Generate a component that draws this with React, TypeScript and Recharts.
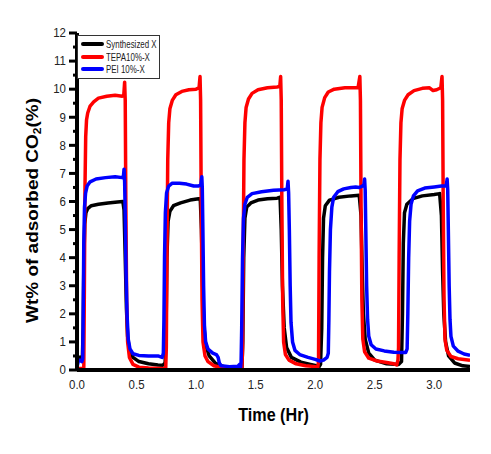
import React from "react";
import { LineChart, Line, XAxis, YAxis, Legend } from "recharts";

const FONT = '"Liberation Sans", Arial, sans-serif';

const seriesNames = ["Synthesized X", "TEPA10%-X", "PEI 10%-X"];
const seriesColors = ["#000000", "#ff0000", "#0000ff"];

const xTicks = [0, 0.5, 1, 1.5, 2, 2.5, 3];
const yTicks = [0, 0.5, 1, 1.5, 2, 2.5, 3, 3.5, 4, 4.5, 5, 5.5, 6, 6.5, 7, 7.5, 8, 8.5, 9, 9.5, 10, 10.5, 11, 11.5, 12];

// Synthesized X
const synthTime = [
  0, 0.03, 0.045, 0.052, 0.058, 0.065, 0.075, 0.09, 0.12, 0.18, 0.26, 0.34, 0.385, 0.395, 0.405, 0.415, 0.425, 0.44,
  0.47, 0.52, 0.6, 0.68, 0.72, 0.74, 0.748, 0.755, 0.765, 0.78, 0.81, 0.87, 0.95, 1.02, 1.035, 1.045, 1.055, 1.065,
  1.08, 1.11, 1.16, 1.24, 1.32, 1.385, 1.392, 1.4, 1.41, 1.425, 1.46, 1.52, 1.6, 1.68, 1.705, 1.715, 1.725, 1.74,
  1.76, 1.8, 1.88, 1.96, 2.01, 2.03, 2.045, 2.055, 2.062, 2.07, 2.085, 2.12, 2.2, 2.3, 2.37, 2.385, 2.395, 2.405,
  2.42, 2.45, 2.5, 2.6, 2.7, 2.725, 2.733, 2.74, 2.75, 2.77, 2.82, 2.9, 3.0, 3.045, 3.06, 3.07, 3.08, 3.095, 3.12,
  3.17, 3.24, 3.3,
];
const synthWt = [
  0.45, 0.45, 0.4, 1.5, 4.0, 5.2, 5.6, 5.75, 5.85, 5.9, 5.95, 5.98, 6.0, 5.7, 4.0, 2.2, 1.2, 0.7,
  0.45, 0.3, 0.22, 0.18, 0.17, 0.25, 1.5, 4.0, 5.3, 5.65, 5.85, 5.95, 6.05, 6.1, 6.1, 5.0, 3.0, 1.6,
  0.9, 0.5, 0.25, 0.1, 0.05, 0.05, 1.0, 4.0, 5.4, 5.8, 5.95, 6.05, 6.1, 6.12, 6.15, 5.0, 3.0, 1.5,
  0.8, 0.45, 0.28, 0.2, 0.15, 0.1, 0.2, 1.5, 4.0, 5.4, 5.85, 6.05, 6.15, 6.2, 6.22, 5.5, 3.5, 2.0,
  1.1, 0.6, 0.35, 0.22, 0.2, 0.3, 2.0, 4.5, 5.6, 5.9, 6.1, 6.2, 6.25, 6.28, 5.5, 3.5, 2.0, 1.0, 0.5,
  0.25, 0.15, 0.12,
];

// TEPA10%-X
const tepaTime = [
  0, 0.05, 0.057, 0.062, 0.067, 0.073, 0.08, 0.09, 0.11, 0.14, 0.18, 0.25, 0.32, 0.38, 0.393, 0.4, 0.405, 0.41,
  0.417, 0.425, 0.44, 0.47, 0.52, 0.6, 0.7, 0.745, 0.75, 0.755, 0.762, 0.77, 0.78, 0.8, 0.83, 0.88, 0.94, 1.0,
  1.025, 1.033, 1.038, 1.043, 1.05, 1.058, 1.075, 1.1, 1.15, 1.22, 1.3, 1.385, 1.39, 1.395, 1.402, 1.41, 1.42,
  1.44, 1.47, 1.52, 1.6, 1.68, 1.703, 1.71, 1.715, 1.72, 1.727, 1.735, 1.75, 1.78, 1.84, 1.92, 2.0, 2.02, 2.028,
  2.033, 2.04, 2.048, 2.058, 2.08, 2.11, 2.16, 2.25, 2.36, 2.375, 2.38, 2.385, 2.392, 2.4, 2.415, 2.45, 2.52, 2.6,
  2.66, 2.685, 2.695, 2.7, 2.705, 2.712, 2.72, 2.73, 2.75, 2.78, 2.83, 2.9, 2.96, 2.99, 3.02, 3.055, 3.065, 3.07,
  3.075, 3.082, 3.09, 3.105, 3.14, 3.2, 3.3,
];
const tepaWt = [
  0.05, 0.05, 0.0, 3.0, 6.5, 8.3, 8.9, 9.15, 9.4, 9.55, 9.68, 9.75, 9.78, 9.75, 9.8, 10.25, 9.6, 6.0,
  2.5, 1.0, 0.45, 0.2, 0.1, 0.07, 0.05, 0.05, 0.8, 4.0, 7.5, 8.8, 9.3, 9.6, 9.8, 9.92, 9.98, 10.0,
  10.05, 10.45, 9.6, 6.0, 2.5, 1.0, 0.5, 0.3, 0.15, 0.08, 0.05, 0.05, 0.8, 4.0, 7.5, 8.8, 9.35,
  9.65, 9.85, 9.98, 10.05, 10.08, 10.1, 10.45, 9.6, 6.0, 2.5, 1.0, 0.55, 0.35, 0.22, 0.15, 0.12, 0.05, 0.3,
  4.0, 7.5, 8.8, 9.35, 9.7, 9.9, 10.0, 10.05, 10.05, 10.45, 9.6, 6.0, 2.5, 1.1, 0.65, 0.42, 0.32, 0.27,
  0.22, 0.18, 0.35, 0.8, 4.0, 7.5, 8.8, 9.3, 9.6, 9.8, 9.95, 10.03, 10.05, 9.95, 9.98, 10.05, 10.45, 9.6,
  6.0, 2.5, 1.1, 0.7, 0.48, 0.4, 0.35,
];

// PEI 10%-X
const peiTime = [
  0, 0.01, 0.025, 0.04, 0.048, 0.052, 0.057, 0.063, 0.072, 0.085, 0.11, 0.16, 0.24, 0.32, 0.38, 0.39, 0.395, 0.4,
  0.405, 0.412, 0.42, 0.43, 0.445, 0.47, 0.52, 0.6, 0.68, 0.715, 0.725, 0.73, 0.735, 0.742, 0.752, 0.77, 0.8, 0.86,
  0.92, 0.98, 1.02, 1.04, 1.048, 1.052, 1.057, 1.063, 1.07, 1.08, 1.1, 1.14, 1.17, 1.185, 1.195, 1.21, 1.28, 1.35,
  1.365, 1.372, 1.378, 1.383, 1.39, 1.398, 1.41, 1.43, 1.47, 1.55, 1.65, 1.74, 1.765, 1.772, 1.777, 1.783, 1.79,
  1.797, 1.81, 1.83, 1.87, 1.94, 2.0, 2.04, 2.07, 2.1, 2.11, 2.115, 2.12, 2.128, 2.14, 2.155, 2.19, 2.24, 2.3, 2.34,
  2.37, 2.395, 2.41, 2.415, 2.42, 2.425, 2.432, 2.44, 2.45, 2.47, 2.51, 2.58, 2.66, 2.73, 2.76, 2.772, 2.778, 2.785,
  2.793, 2.805, 2.825, 2.86, 2.92, 3.0, 3.06, 3.1, 3.108, 3.113, 3.118, 3.125, 3.132, 3.14, 3.16, 3.2, 3.25, 3.3,
];
const peiWt = [
  0.1, 0.3, 0.35, 0.3, 0.4, 2.0, 4.5, 5.8, 6.3, 6.55, 6.7, 6.8, 6.85, 6.88, 6.85, 6.9, 7.15, 6.7,
  5.5, 3.5, 2.0, 1.1, 0.75, 0.58, 0.52, 0.5, 0.5, 0.45, 0.6, 1.8, 4.0, 5.6, 6.3, 6.55, 6.65, 6.65,
  6.62, 6.55, 6.55, 6.6, 6.88, 6.5, 5.0, 3.0, 1.6, 1.0, 0.75, 0.6, 0.55, 0.45, 0.25, 0.15, 0.12, 0.13,
  0.2, 0.0, 0.3, 1.5, 4.0, 5.4, 5.9, 6.15, 6.28, 6.35, 6.4, 6.42, 6.45, 6.72, 6.3, 5.0, 3.0,
  1.7, 1.0, 0.7, 0.55, 0.45, 0.38, 0.32, 0.35, 0.45, 0.6, 1.8, 3.5, 5.0, 5.8, 6.15, 6.35, 6.45, 6.5, 6.52,
  6.5, 6.55, 6.6, 6.8, 6.4, 5.0, 3.0, 1.8, 1.2, 0.9, 0.75, 0.68, 0.63, 0.62, 0.62, 0.75, 2.0, 4.0,
  5.3, 5.9, 6.2, 6.38, 6.48, 6.52, 6.55, 6.55, 6.8, 6.4, 5.0, 3.0, 1.8, 1.2, 0.85, 0.67, 0.57, 0.52,
];

const toPoints = (time: number[], wt: number[]) => time.map((t, i) => ({ t, v: wt[i] }));

const seriesData = [toPoints(synthTime, synthWt), toPoints(tepaTime, tepaWt), toPoints(peiTime, peiWt)];

const YTick = (props: any) => {
  const { x, y, payload } = props;
  const major = Number.isInteger(payload.value);
  return (
    <g>
      <line x1={x - (major ? 8 : 4)} x2={x} y1={y} y2={y} stroke="#000" strokeWidth={3} />
      {major && (
        <text
          transform={`translate(${x - 11},${y}) scale(0.85,1)`}
          textAnchor="end"
          dominantBaseline="central"
          fontSize={13.5}
          fontFamily={FONT}
          fill="#222"
        >
          {payload.value}
        </text>
      )}
    </g>
  );
};

const XTick = (props: any) => {
  const { x, y, payload } = props;
  return (
    <text
      transform={`translate(${x},${y + 15}) scale(0.85,1)`}
      textAnchor="middle"
      dominantBaseline="central"
      fontSize={13.5}
      fontFamily={FONT}
      fill="#222"
    >
      {Number(payload.value).toFixed(1)}
    </text>
  );
};

const XLabel = (props: any) => {
  const { viewBox } = props;
  const cx = viewBox.x + viewBox.width / 2;
  return (
    <text
      transform={`translate(${cx},${viewBox.y + 45}) scale(0.85,1)`}
      textAnchor="middle"
      dominantBaseline="central"
      fontSize={19}
      fontWeight="bold"
      fontFamily={FONT}
      fill="#000"
    >
      Time (Hr)
    </text>
  );
};

const YLabel = (props: any) => {
  const { viewBox } = props;
  const cy = viewBox.y + viewBox.height / 2 + 9;
  return (
    <text
      transform={`translate(33,${cy}) scale(0.85,1) rotate(-90)`}
      textAnchor="middle"
      dominantBaseline="central"
      fontSize={19}
      fontWeight="bold"
      fontFamily={FONT}
      fill="#000"
    >
      Wt% of adsorbed CO
      <tspan fontSize={12} dy={5}>
        2
      </tspan>
      <tspan dy={-5}>(%)</tspan>
    </text>
  );
};

const LegendBox = () => (
  <div
    style={{
      border: "1px solid #333",
      background: "#fff",
      padding: "2px 0 2px 0",
      fontFamily: FONT,
      width: 81,
    }}
  >
    {seriesNames.map((name, i) => (
      <div key={name} style={{ display: "flex", alignItems: "center", height: 12.5 }}>
        <div
          style={{
            flex: "0 0 23px",
            height: 4,
            marginLeft: 3,
            marginRight: 2,
            borderRadius: 2,
            background: seriesColors[i],
          }}
        />
        <span
          style={{
            flex: "0 0 auto",
            fontSize: 11,
            color: "#222",
            whiteSpace: "nowrap",
            display: "inline-block",
            transform: "scaleX(0.72)",
            transformOrigin: "left center",
          }}
        >
          {name}
        </span>
      </div>
    ))}
  </div>
);

export default function App() {
  return (
    <div style={{ position: "absolute", left: 0, top: 0, width: 491, height: 454, background: "#fff" }}>
      <LineChart width={491} height={454} margin={{ top: 33, right: 21, left: 0, bottom: 0 }}>
        <XAxis
          dataKey="t"
          type="number"
          domain={[0, 3.3]}
          ticks={xTicks}
          allowDataOverflow
          height={84}
          tickSize={0}
          tickMargin={0}
          tickLine={false}
          tick={<XTick />}
          axisLine={{ stroke: "#000", strokeWidth: 4 }}
          label={<XLabel />}
        />
        <XAxis
          xAxisId="top"
          orientation="top"
          type="number"
          domain={[0, 3.3]}
          height={0}
          tick={false}
          tickLine={false}
          axisLine={{ stroke: "#000", strokeWidth: 4 }}
        />
        <YAxis
          type="number"
          domain={[0, 12]}
          ticks={yTicks}
          interval={0}
          allowDataOverflow
          width={77}
          tickSize={0}
          tickMargin={0}
          tickLine={false}
          tick={<YTick />}
          axisLine={{ stroke: "#000", strokeWidth: 4 }}
          label={<YLabel />}
        />
        <YAxis
          yAxisId="right"
          orientation="right"
          type="number"
          domain={[0, 12]}
          width={0}
          tick={false}
          tickLine={false}
          axisLine={{ stroke: "#000", strokeWidth: 4 }}
        />
        <Legend
          layout="vertical"
          align="center"
          verticalAlign="middle"
          content={<LegendBox />}
          wrapperStyle={{ left: 77, top: 35, width: 83 }}
        />
        {seriesData.map((d, i) => (
          <Line
            key={seriesNames[i]}
            data={d}
            dataKey="v"
            name={seriesNames[i]}
            type="linear"
            stroke={seriesColors[i]}
            strokeWidth={3.5}
            strokeLinejoin="round"
            dot={false}
            isAnimationActive={false}
          />
        ))}
      </LineChart>
    </div>
  );
}
